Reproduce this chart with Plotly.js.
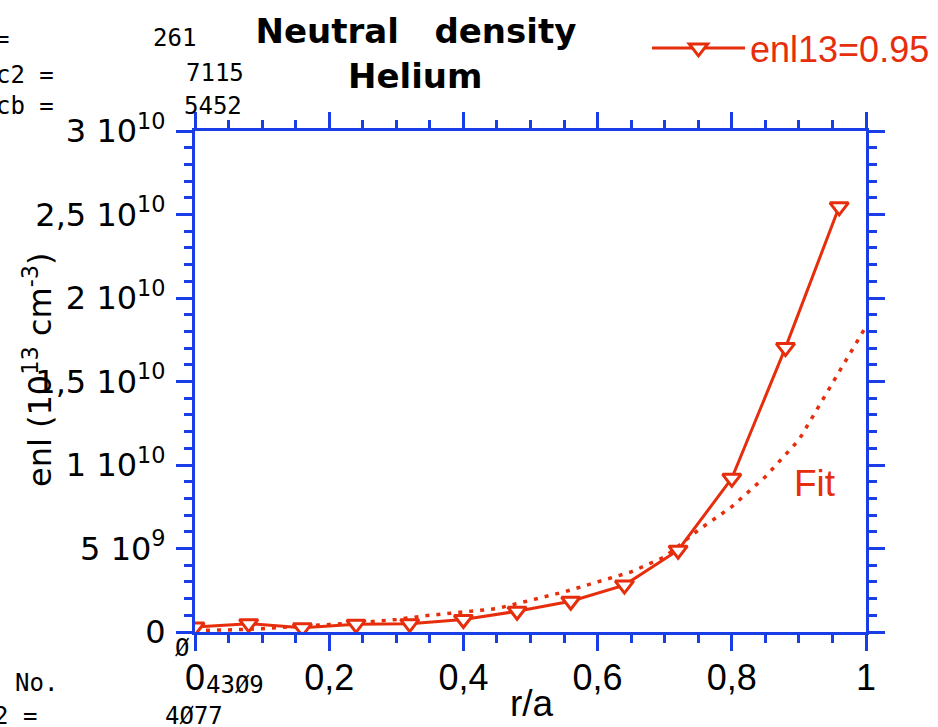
<!DOCTYPE html>
<html><head><meta charset="utf-8">
<script src="https://cdn.plot.ly/plotly-3.0.1.min.js"></script>
<style>html,body{margin:0;padding:0;background:#fff;overflow:hidden}</style>
</head><body>
<div id="chart" style="width:938px;height:727px"></div>
<script>
// ---- data ----
const rOverA = [0, 0.08, 0.16, 0.24, 0.32, 0.40, 0.48, 0.56, 0.64, 0.72, 0.80, 0.88, 0.96];
const enl13  = [0.03e10, 0.05e10, 0.025e10, 0.046e10, 0.05e10, 0.075e10, 0.124e10, 0.184e10, 0.281e10, 0.49e10, 0.92e10, 1.703e10, 2.546e10];
const fitR   = [0, 0.05, 0.1, 0.15, 0.2, 0.25, 0.3, 0.35, 0.4, 0.45, 0.5, 0.55, 0.6, 0.65, 0.7, 0.75, 0.8, 0.85, 0.9, 0.95, 1.0];
const fitEnl = [0.01e10, 0.012e10, 0.02e10, 0.03e10, 0.045e10, 0.058e10, 0.075e10, 0.1e10, 0.12e10, 0.14e10, 0.19e10, 0.24e10, 0.30e10, 0.36e10, 0.45e10, 0.61e10, 0.75e10, 0.93e10, 1.15e10, 1.49e10, 1.83e10];
const yTickVals = [0, 5e9, 1e10, 1.5e10, 2e10, 2.5e10, 3e10];
const yTickText = ['0', '5 10<sup>9</sup>', '1 10<sup>10</sup>', '1,5 10<sup>10</sup>', '2 10<sup>10</sup>', '2,5 10<sup>10</sup>', '3 10<sup>10</sup>'];
const xTickVals = [0, 0.2, 0.4, 0.6, 0.8, 1];
const xTickText = ['0', '0,2', '0,4', '0,6', '0,8', '1'];
const seriesName = 'enl13=0.95';
const fitLabel = 'Fit';
const titleLines = ['Neutral\u00a0\u00a0 density', 'Helium'];
const sideTexts = [
  ['=', -6, 39], ['261', 152, 38.5],
  ['c2\u00a0=', -5, 74.5], ['7115', 185, 73.5],
  ['cb\u00a0=', -5, 106], ['5452', 183, 105.5],
  ['\u00d8', 174, 648],
  ['No.', 14, 683], ['43\u00d89', 205, 685],
  ['2\u00a0=', -7, 716], ['4\u00d877', 164, 716]
];

// ---- style ----
const RED = '#e62e0c', BLUE = '#1a3ee6';
const W = 938, H = 727;
const M = {l: 195, r: 72, t: 131, b: 95, autoexpand: false};
const PW = W - M.l - M.r, PH = H - M.t - M.b;
const px = x => (x - M.l) / PW;
const py = y => (H - M.b - y) / PH;

const traces = [
  {x: fitR, y: fitEnl, type: 'scatter', mode: 'lines', showlegend: false,
   line: {color: RED, width: 3.5, dash: '4px,7px'}, hoverinfo: 'skip'},
  {x: rOverA, y: enl13, type: 'scatter', mode: 'lines+markers', name: seriesName,
   line: {color: RED, width: 3},
   marker: {symbol: 'triangle-down', size: 16, color: '#ffffff', line: {color: RED, width: 3}}}
];

const annotations = [];
sideTexts.forEach(([t, x, y]) => annotations.push({
  text: t, xref: 'paper', yref: 'paper', x: px(x), y: py(y), xanchor: 'left', yanchor: 'middle',
  showarrow: false, borderpad: 0, font: {family: 'DejaVu Sans Mono', size: 24, color: '#000'}
}));
annotations.push({text: fitLabel, xref: 'x', yref: 'y', x: 0.924, y: 0.89e10, showarrow: false,
  xanchor: 'center', yanchor: 'middle', font: {family: 'Liberation Sans', size: 37, color: RED}});
annotations.push({text: 'enl (10<sup>13</sup> cm<sup>-3</sup>)', xref: 'paper', yref: 'paper',
  x: px(38), y: py(370), textangle: -90, showarrow: false, xanchor: 'center', yanchor: 'middle',
  font: {family: 'DejaVu Sans', size: 32, color: '#000'}});
annotations.push({text: 'r/a', xref: 'paper', yref: 'paper', x: px(532), y: py(703), showarrow: false,
  xanchor: 'center', yanchor: 'middle', font: {family: 'Liberation Sans', size: 37, color: '#000'}});
annotations.push({text: titleLines[1], xref: 'paper', yref: 'paper', x: px(415), y: py(76), showarrow: false,
  xanchor: 'center', yanchor: 'middle', font: {family: 'DejaVu Sans', size: 34, color: '#000', weight: 'bold'}});

const axisCommon = {
  showline: true, linecolor: BLUE, linewidth: 3, mirror: 'allticks',
  ticks: 'outside', ticklen: 16, tickwidth: 3, tickcolor: BLUE,
  showgrid: false, zeroline: false, tickmode: 'array', fixedrange: true
};

const layout = {
  width: W, height: H, margin: M, paper_bgcolor: '#fff', plot_bgcolor: '#fff',
  title: {text: titleLines[0], xref: 'container', yref: 'container', x: 416 / W, xanchor: 'center',
          y: 1 - 31 / H, yanchor: 'middle',
          font: {family: 'DejaVu Sans', size: 34, color: '#000', weight: 'bold'}},
  xaxis: Object.assign({}, axisCommon, {range: [0, 1], tickvals: xTickVals, ticktext: xTickText,
    tickfont: {family: 'Liberation Sans', size: 36, color: '#000'}, ticklabelstandoff: -4,
    minor: {dtick: 0.05, tick0: 0, ticks: 'outside', ticklen: 8, tickwidth: 3, tickcolor: BLUE}}),
  yaxis: Object.assign({}, axisCommon, {range: [0, 3e10], tickvals: yTickVals, ticktext: yTickText,
    tickfont: {family: 'DejaVu Sans', size: 32, color: '#000'}, ticklabelstandoff: 4,
    minor: {dtick: 1e9, tick0: 0, ticks: 'outside', ticklen: 8, tickwidth: 3, tickcolor: BLUE}}),
  showlegend: true,
  legend: {x: px(647), y: py(48), xanchor: 'left', yanchor: 'middle', bgcolor: 'rgba(0,0,0,0)',
    itemwidth: 93, font: {family: 'Liberation Sans', size: 36, color: RED}},
  annotations: annotations
};

Plotly.newPlot('chart', traces, layout, {displayModeBar: false, staticPlot: true});
</script>
</body></html>
